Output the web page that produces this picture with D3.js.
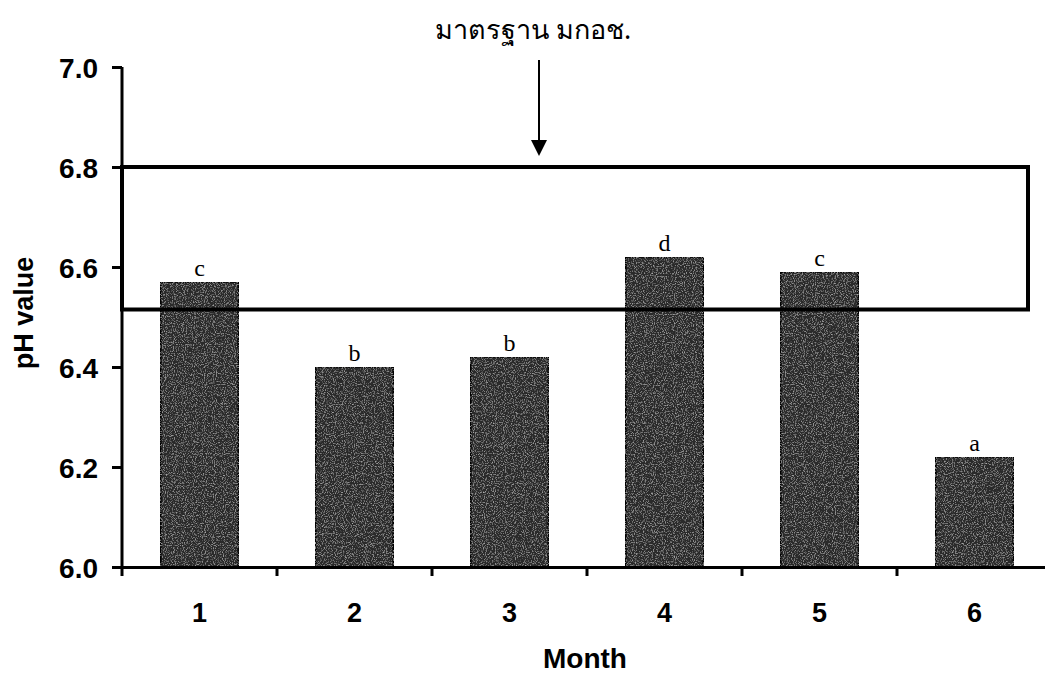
<!DOCTYPE html>
<html>
<script src='https://d3js.org/d3.v7.min.js'></script>
<style>
  body { margin: 0; background: #fff; }
  .tick text { font-family: 'Liberation Sans', Arial, sans-serif; font-weight: bold; }
</style>
<body onload='init()'>
<svg width=1045 height=679></svg>
<script>
const months = ['1', '2', '3', '4', '5', '6'];
const phValues = [6.57, 6.40, 6.42, 6.62, 6.59, 6.22];
const groupLetters = ['c', 'b', 'b', 'd', 'c', 'a'];
const yTicks = [6.0, 6.2, 6.4, 6.6, 6.8, 7.0];
const standardRange = [6.515, 6.8];
const standardLabel = 'มาตรฐาน มกอช.';

function init() {
  const svg = d3.select('svg');

  // speckled grey texture for the bars
  const defs = svg.append('defs');
  const f = defs.append('filter').attr('id', 'grain')
    .attr('x', 0).attr('y', 0).attr('width', 1).attr('height', 1);
  f.append('feTurbulence').attr('type', 'fractalNoise')
    .attr('baseFrequency', 0.9).attr('numOctaves', 2).attr('seed', 3).attr('result', 'n');
  f.append('feColorMatrix').attr('in', 'n').attr('type', 'matrix')
    .attr('values', '0 0 0 0 0.6  0 0 0 0 0.6  0 0 0 0 0.6  1.7 0 0 0 -0.85')
    .attr('result', 'spk');
  f.append('feComposite').attr('in', 'spk').attr('in2', 'SourceGraphic').attr('operator', 'in').attr('result', 'sp2');
  const m = f.append('feMerge');
  m.append('feMergeNode').attr('in', 'SourceGraphic');
  m.append('feMergeNode').attr('in', 'sp2');

  const x = d3.scaleBand().domain(months).range([122, 1052]).paddingInner(0).paddingOuter(0);
  const y = d3.scaleLinear().domain([6.0, 7.0]).range([567, 67]);
  const bw = x.bandwidth() * 0.5;

  // bars
  svg.append('g').selectAll('rect')
    .data(phValues)
    .enter()
    .append('rect')
      .attr('x', (d, i) => x(months[i]) + (x.bandwidth() - bw) / 2)
      .attr('y', d => y(d))
      .attr('width', bw)
      .attr('height', d => y(6.0) - y(d))
      .attr('fill', '#2a2a2a')
      .attr('stroke', '#000')
      .attr('stroke-width', 1.5)
      .attr('filter', 'url(#grain)');

  // significance letters
  svg.append('g').selectAll('text')
    .data(phValues)
    .enter()
    .append('text')
      .attr('x', (d, i) => x(months[i]) + x.bandwidth() / 2)
      .attr('y', d => y(d) - 6)
      .attr('text-anchor', 'middle')
      .style('font-family', "'Liberation Serif', 'Times New Roman', serif")
      .style('font-size', '24px')
      .text((d, i) => groupLetters[i]);

  // standard range box
  svg.append('rect')
    .attr('x', 122)
    .attr('y', y(standardRange[1]))
    .attr('width', 1028 - 122)
    .attr('height', y(standardRange[0]) - y(standardRange[1]))
    .attr('fill', 'none')
    .attr('stroke', '#000')
    .attr('stroke-width', 4);

  // y axis
  const ya = svg.append('g')
    .attr('transform', 'translate(122,0)')
    .call(d3.axisLeft(y).tickValues(yTicks).tickFormat(d3.format('.1f')).tickSize(10).tickPadding(14));
  ya.select('.domain').attr('stroke-width', 3).attr('d', 'M0,' + y(7.0) + 'V' + y(6.0));
  ya.selectAll('.tick line').attr('stroke-width', 3);
  ya.selectAll('.tick text').style('font-size', '28px').attr('dy', '0.36em');

  // x axis: ticks between categories
  const xa = svg.append('g')
    .attr('transform', 'translate(0,567)')
    .call(d3.axisBottom(x).tickSize(0).tickPadding(36));
  xa.select('.domain').attr('stroke-width', 3);
  xa.selectAll('.tick text').style('font-size', '27px');
  xa.selectAll('.sep')
    .data(months)
    .enter()
    .append('line')
      .attr('x1', d => x(d)).attr('x2', d => x(d))
      .attr('y1', 0).attr('y2', 9)
      .attr('stroke', '#000').attr('stroke-width', 3);

  // axis titles
  svg.append('text')
    .attr('x', 585).attr('y', 668)
    .attr('text-anchor', 'middle')
    .style('font-family', "'Liberation Sans', Arial, sans-serif")
    .style('font-weight', 'bold').style('font-size', '28px')
    .text('Month');
  svg.append('text')
    .attr('transform', 'translate(33,313) rotate(-90)')
    .attr('text-anchor', 'middle')
    .style('font-family', "'Liberation Sans', Arial, sans-serif")
    .style('font-weight', 'bold').style('font-size', '27px')
    .text('pH value');

  // standard annotation + arrow
  svg.append('text')
    .attr('x', 533).attr('y', 39)
    .attr('text-anchor', 'middle')
    .style('font-family', "'Noto Sans', 'DejaVu Sans', sans-serif")
    .style('font-size', '27px')
    .text(standardLabel);
  svg.append('line')
    .attr('x1', 539).attr('x2', 539).attr('y1', 60).attr('y2', 142)
    .attr('stroke', '#000').attr('stroke-width', 2);
  svg.append('path')
    .attr('d', 'M531,140 L547,140 L539,156 Z')
    .attr('fill', '#000');
}
</script>
</body>
</html>
